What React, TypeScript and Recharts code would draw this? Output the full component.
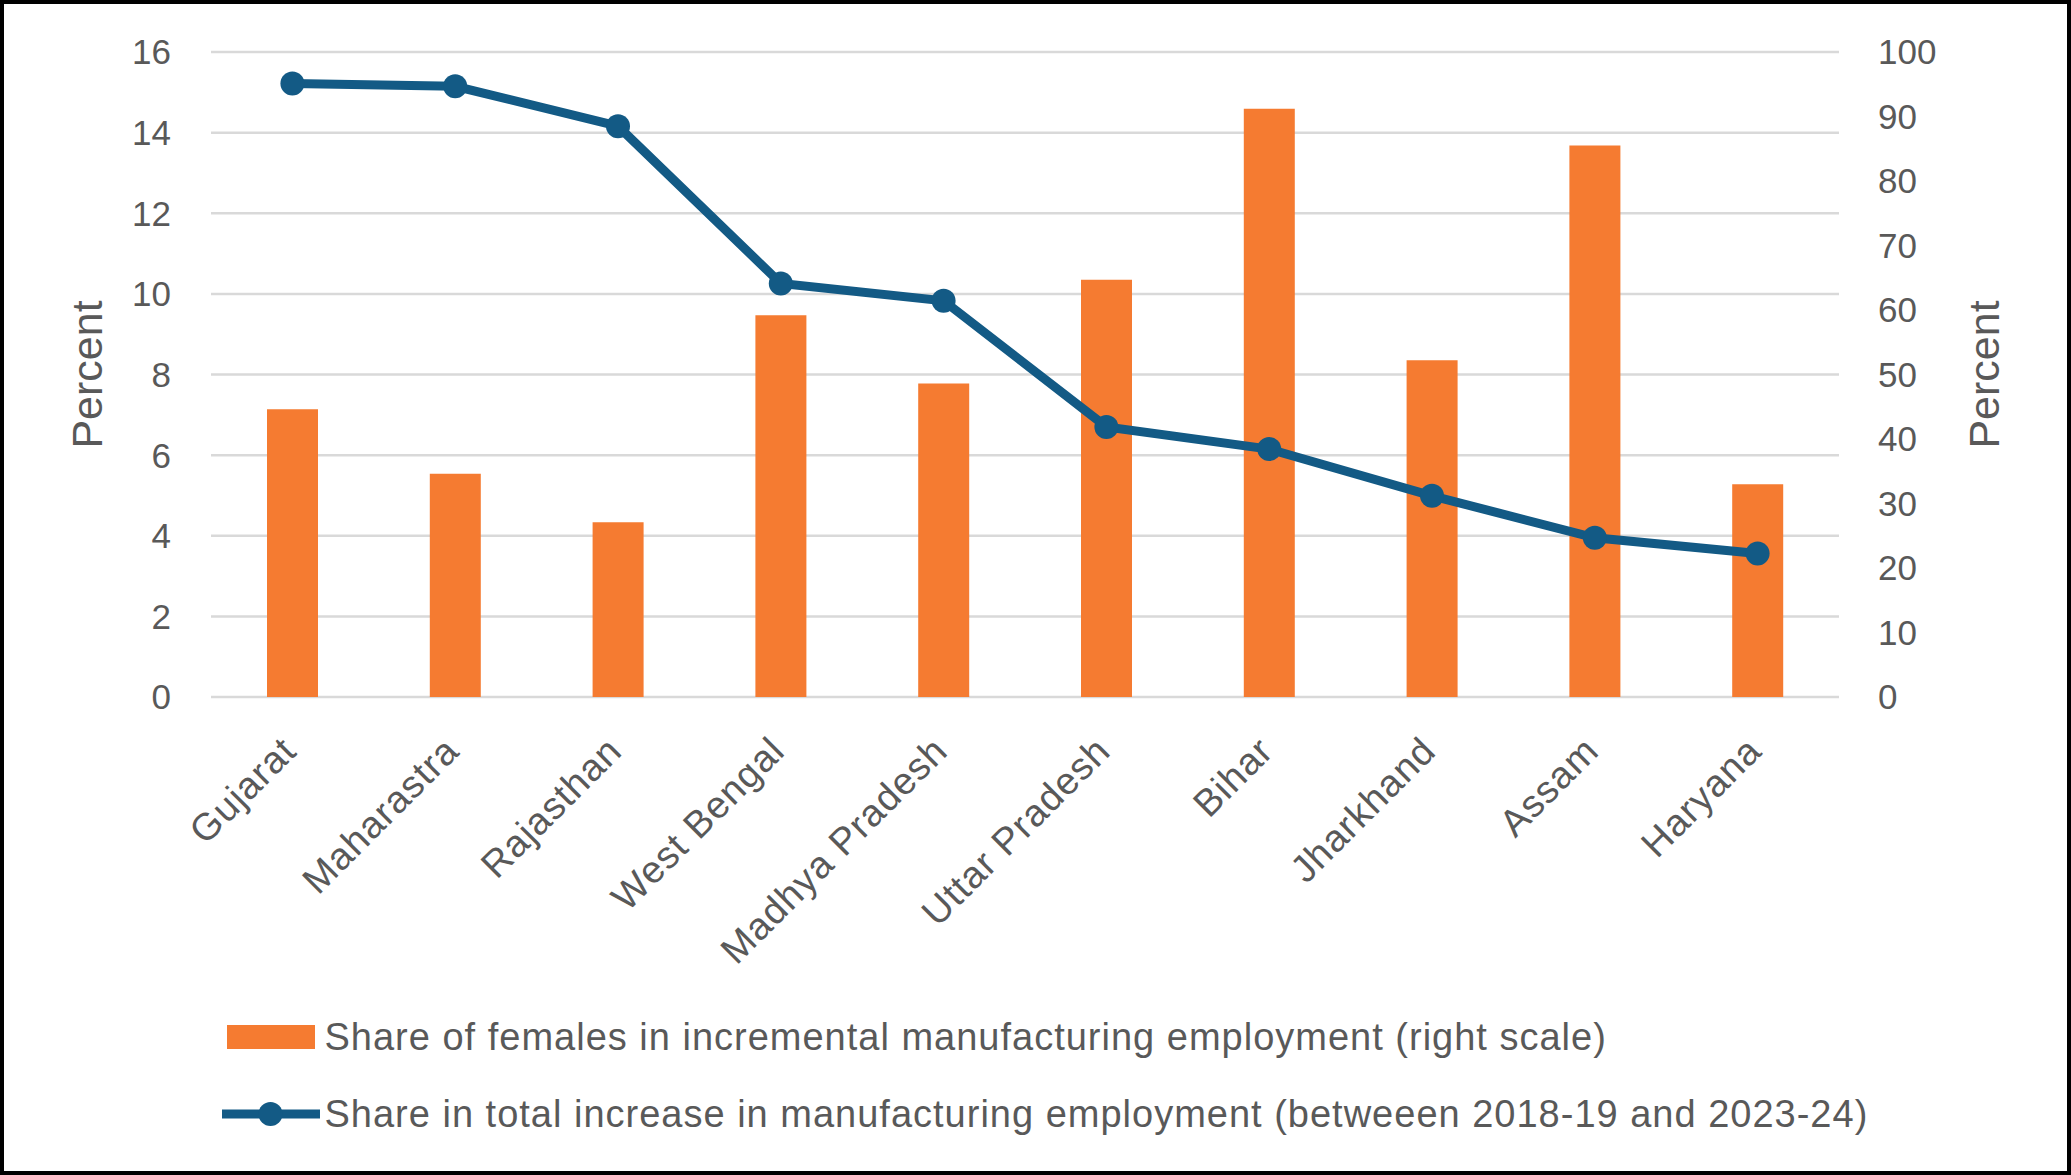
import React from 'react';
import { ComposedChart, Bar, Line, XAxis, YAxis, CartesianGrid, Legend } from 'recharts';

const states = ['Gujarat', 'Maharastra', 'Rajasthan', 'West Bengal', 'Madhya Pradesh', 'Uttar Pradesh', 'Bihar', 'Jharkhand', 'Assam', 'Haryana'];
const femaleShare = [44.6, 34.6, 27.1, 59.2, 48.6, 64.7, 91.2, 52.2, 85.5, 33.0];
const totalShare = [15.22, 15.15, 14.16, 10.26, 9.83, 6.7, 6.15, 4.99, 3.95, 3.56];
const leftTicks = [0, 2, 4, 6, 8, 10, 12, 14, 16];
const rightTicks = [0, 10, 20, 30, 40, 50, 60, 70, 80, 90, 100];
const barName = 'Share of females in incremental manufacturing employment (right scale)';
const lineName = 'Share in total increase in manufacturing employment (betweeen 2018-19 and 2023-24)';

const data = states.map((name, i) => ({ name, female: femaleShare[i], total: totalShare[i] }));

const FONT = '"Liberation Sans", Arial, sans-serif';
const TEXT = '#595959';
const ORANGE = '#F57B31';
const BLUE = '#135A85';

const XTick = (props: any) => {
  const { x, y, payload } = props;
  const tx = x + 6;
  const ty = y + 56;
  return (
    <text x={tx} y={ty} transform={`rotate(-45, ${tx}, ${ty})`} textAnchor="end" fill={TEXT}
      style={{ fontFamily: FONT, fontSize: 38, letterSpacing: 1 }}>
      {payload.value}
    </text>
  );
};

const AxisTitle = (dx: number) => (props: any) => {
  const vb = props.viewBox || {};
  const cx = vb.x + dx;
  const cy = vb.y + vb.height / 2;
  return (
    <text x={cx} y={cy} transform={`rotate(-90, ${cx}, ${cy})`} textAnchor="middle" dominantBaseline="central"
      fill={TEXT} style={{ fontFamily: FONT, fontSize: 43 }}>
      Percent
    </text>
  );
};

const LegendContent = (props: any) => {
  const items = [...(props.payload || [])].sort((a: any, b: any) => (a.type === 'rect' ? 0 : 1) - (b.type === 'rect' ? 0 : 1));
  const rows = [110, 187];
  return (
    <div style={{ position: 'relative', width: 2071, height: 248 }}>
      {items.map((it: any, i: number) => (
        <div key={i} style={{ position: 'absolute', left: 222, top: rows[i] - 20, height: 40, display: 'flex', alignItems: 'center' }}>
          <svg width={98} height={40} style={{ display: 'block' }}>
            {it.type === 'line' ? (
              <g>
                <line x1={0} y1={20} x2={98} y2={20} stroke={it.color} strokeWidth={9} />
                <circle cx={48.5} cy={20} r={12} fill={it.color} />
              </g>
            ) : (
              <rect x={5} y={8} width={88} height={24} fill={it.color} />
            )}
          </svg>
          <span style={{ marginLeft: 4.5, fontFamily: FONT, fontSize: 38, letterSpacing: 1, lineHeight: '40px', color: TEXT, whiteSpace: 'nowrap' }}>
            {it.value}
          </span>
        </div>
      ))}
    </div>
  );
};

export default function App() {
  return (
    <div style={{ position: 'absolute', left: 0, top: 0, width: 2071, height: 1175, background: '#fff', overflow: 'hidden' }}>
      <ComposedChart width={2071} height={1175} data={data} margin={{ top: 52, right: 0, bottom: 0, left: 0 }}>
        <CartesianGrid yAxisId="left" vertical={false} stroke="#D9D9D9" strokeWidth={2.5} />
        <XAxis dataKey="name" interval={0} height={230} axisLine={false} tickLine={false} tickSize={0} tickMargin={0} tick={<XTick />} />
        <YAxis yAxisId="left" orientation="left" width={211} domain={[0, 16]} ticks={leftTicks} interval={0}
          axisLine={false} tickLine={false} tickSize={0} tickMargin={40}
          tick={{ fill: TEXT, fontSize: 35, fontFamily: FONT }} label={{ content: AxisTitle(87) }} />
        <YAxis yAxisId="right" orientation="right" width={232} domain={[0, 100]} ticks={rightTicks} interval={0}
          axisLine={false} tickLine={false} tickSize={0} tickMargin={39}
          tick={{ fill: TEXT, fontSize: 35, fontFamily: FONT }} label={{ content: AxisTitle(145) }} />
        <Legend verticalAlign="bottom" align="left" content={<LegendContent />} wrapperStyle={{ left: 0, width: 2071, height: 248 }} />
        <Bar yAxisId="right" dataKey="female" name={barName} fill={ORANGE} barSize={51} legendType="rect" isAnimationActive={false} />
        <Line yAxisId="left" dataKey="total" name={lineName} stroke={BLUE} strokeWidth={9} legendType="line"
          dot={{ r: 12, fill: BLUE, stroke: 'none' }} activeDot={false} isAnimationActive={false} />
      </ComposedChart>
      <div style={{ position: 'absolute', inset: 0, border: '4px solid #000', pointerEvents: 'none' }} />
    </div>
  );
}
